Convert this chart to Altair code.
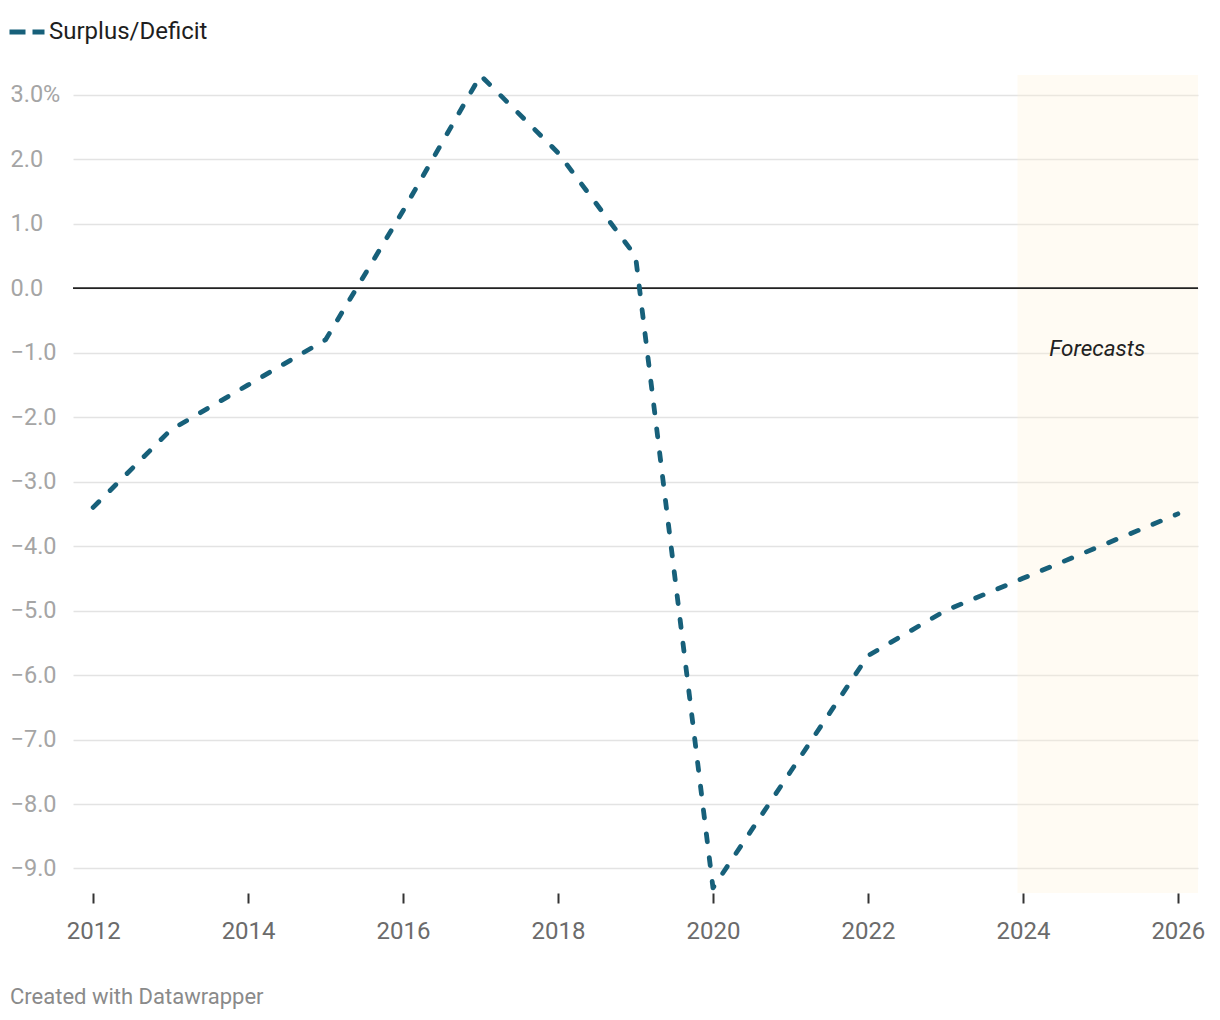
import altair as alt
import pandas as pd

years = [2012, 2013, 2014, 2015, 2016, 2017, 2018, 2019, 2020, 2021, 2022, 2023, 2024, 2025, 2026]
surplus = [-3.4, -2.2, -1.5, -0.8, 1.2, 3.3, 2.1, 0.5, -9.3, -7.5, -5.7, -5.0, -4.5, -4.0, -3.5]
series_name = "Surplus/Deficit"

x_ticks = [2012, 2014, 2016, 2018, 2020, 2022, 2024, 2026]
y_ticks = [3, 2, 1, 0, -1, -2, -3, -4, -5, -6, -7, -8, -9]
x_domain = [2011.74, 2026.26]
y_domain = [-9.38, 3.306]

band_start = [2023.93]
band_end = [2026.26]
band_label = ["Forecasts"]
band_label_x = [2024.96]
band_label_y = [-0.95]
footer = ["Created with Datawrapper"]

FONT = "Roboto"
W, H = 1125, 818

df = pd.DataFrame({"year": years, "value": surplus, "series": [series_name] * len(years)})
band_df = pd.DataFrame({"start": band_start, "end": band_end,
                        "y0": [y_domain[0]], "y1": [y_domain[1]]})
lab_df = pd.DataFrame({"x": band_label_x, "y": band_label_y, "text": band_label})
foot_df = pd.DataFrame({"text": footer})

xscale = alt.Scale(domain=x_domain, nice=False, zero=False)
yscale = alt.Scale(domain=y_domain, nice=False, zero=False)

band = alt.Chart(band_df).mark_rect(color="#fff3d6", opacity=0.3, strokeWidth=0).encode(
    x=alt.X("start:Q", scale=xscale, title=None,
            axis=alt.Axis(values=x_ticks, format="d", grid=False, domain=False,
                          ticks=True, tickColor="#333333", tickWidth=2, tickSize=10,
                          labelColor="#6b6b6b", labelFont=FONT, labelFontSize=24,
                          labelPadding=16)),
    x2="end:Q",
    y=alt.Y("y0:Q", scale=yscale, title=None,
            axis=alt.Axis(values=y_ticks, grid=True, gridColor="#e3e3e3", gridWidth=1.5,
                          domain=False, ticks=False, labelAlign="left", labelPadding=63,
                          labelBaseline="middle", labelColor="#a5a5a5", labelFont=FONT,
                          labelFontSize=23.5,
                          labelExpr="datum.value == 3 ? '3.0%' : format(datum.value, '.1f')")),
    y2="y1:Q",
)

zero = alt.Chart(pd.DataFrame({"z": [0]})).mark_rule(color="#222222", strokeWidth=1.8).encode(
    y=alt.Y("z:Q", scale=yscale)
)

line = alt.Chart(df).mark_line(strokeWidth=4.8, strokeDash=[8, 16], strokeCap="round",
                               strokeJoin="round").encode(
    x=alt.X("year:Q", scale=xscale),
    y=alt.Y("value:Q", scale=yscale),
    color=alt.Color("series:N",
                    scale=alt.Scale(domain=[series_name], range=["#17607a"]),
                    legend=alt.Legend(title=None, orient="none", legendX=-66, legendY=-63,
                                      symbolType="stroke", symbolSize=1225,
                                      symbolStrokeWidth=5, symbolDash=[16, 7],
                                      labelFont=FONT, labelFontSize=24,
                                      labelColor="#1e1e1e", labelOffset=2)),
)

label = alt.Chart(lab_df).mark_text(font=FONT, fontSize=22.5, fontStyle="italic",
                                    color="#222222", align="center",
                                    baseline="middle").encode(
    x=alt.X("x:Q", scale=xscale),
    y=alt.Y("y:Q", scale=yscale),
    text="text:N",
)

foot = alt.Chart(foot_df).mark_text(font=FONT, fontSize=22, color="#8a8a8a",
                                    align="left", baseline="middle").encode(
    x=alt.value(-63), y=alt.value(922), text="text:N"
)

chart = alt.layer(band, zero, line, label, foot).properties(
    width=W, height=H,
    background="white",
    autosize=alt.AutoSizeParams(type="none"),
    padding={"left": 65, "top": 67, "right": 14, "bottom": 135},
).configure_view(stroke=None)

chart.save("out.html", embed_options={"renderer": "svg", "actions": False})
